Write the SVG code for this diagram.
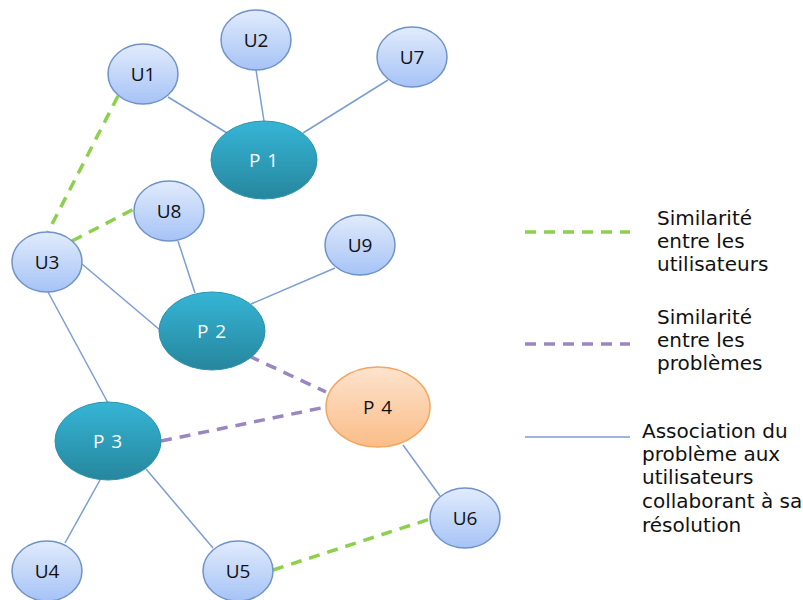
<svg xmlns="http://www.w3.org/2000/svg" width="803" height="600" viewBox="0 0 803 600">
<defs>
<linearGradient id="gu" x1="0" y1="0" x2="0" y2="1"><stop offset="0" stop-color="#e1ebfc"/><stop offset="1" stop-color="#a6c3f6"/></linearGradient>
<linearGradient id="gp" x1="0" y1="0" x2="0" y2="1"><stop offset="0" stop-color="#36b5d6"/><stop offset="1" stop-color="#26869d"/></linearGradient>
<linearGradient id="go" x1="0" y1="0" x2="0" y2="1"><stop offset="0" stop-color="#fde3cd"/><stop offset="1" stop-color="#fbbd88"/></linearGradient>
<style>
.u ellipse{fill:url(#gu);stroke:#6f92c9;stroke-width:1.5}
.p ellipse{fill:url(#gp);stroke:#2b93ad;stroke-width:1}
.o ellipse{fill:url(#go);stroke:#f4a660;stroke-width:1.5}
text{font-family:"Open Sans","Liberation Sans",sans-serif;text-anchor:middle;font-size:19px}
.u text,.o text{fill:#111}
.p text{fill:#fff;letter-spacing:1px}
.o text{letter-spacing:1px}
.a{stroke:#7b9dd2;stroke-width:1.5;fill:none}
.g{stroke:#8dd04e;stroke-width:3.5;stroke-dasharray:11 8;fill:none}
.v{stroke:#9a86c0;stroke-width:3.5;stroke-dasharray:11 8;fill:none}
.leg{font-family:"DejaVu Sans",sans-serif;font-size:20px;text-anchor:start;fill:#111;letter-spacing:0}
</style>
</defs>
<g id="connectors">
<line class="a" x1="168" y1="97" x2="227" y2="133"/>
<line class="a" x1="256" y1="70" x2="264" y2="121"/>
<line class="a" x1="388" y1="80" x2="303" y2="133"/>
<line class="a" x1="178" y1="241" x2="195" y2="293"/>
<line class="a" x1="335" y1="268" x2="251" y2="304"/>
<line class="a" x1="82" y1="264" x2="160" y2="330"/>
<line class="a" x1="48" y1="292" x2="108" y2="403"/>
<line class="a" x1="100" y1="480" x2="65" y2="543"/>
<line class="a" x1="146" y1="469" x2="213" y2="548"/>
<line class="a" x1="403" y1="445" x2="440" y2="496"/>
<line class="g" x1="118" y1="96" x2="48" y2="232"/>
<line class="g" x1="72" y1="241" x2="134" y2="209"/>
<line class="g" x1="273" y1="570" x2="430" y2="519"/>
<line class="v" x1="249" y1="356" x2="326" y2="392"/>
<line class="v" x1="161" y1="441" x2="326" y2="407"/>
</g>
<g id="U1" class="u"><ellipse cx="143" cy="74" rx="35" ry="30"/><text x="143" y="81">U1</text></g>
<g id="U2" class="u"><ellipse cx="256" cy="40" rx="35" ry="30"/><text x="256" y="47">U2</text></g>
<g id="U7" class="u"><ellipse cx="412" cy="57" rx="35" ry="30"/><text x="412" y="64">U7</text></g>
<g id="U8" class="u"><ellipse cx="169" cy="211" rx="35" ry="30"/><text x="169" y="218">U8</text></g>
<g id="U3" class="u"><ellipse cx="47" cy="262" rx="35" ry="30"/><text x="47" y="269">U3</text></g>
<g id="U9" class="u"><ellipse cx="360" cy="245" rx="35" ry="30"/><text x="360" y="252">U9</text></g>
<g id="U4" class="u"><ellipse cx="47" cy="571" rx="35" ry="30"/><text x="47" y="578">U4</text></g>
<g id="U5" class="u"><ellipse cx="238" cy="571" rx="35" ry="30"/><text x="238" y="578">U5</text></g>
<g id="U6" class="u"><ellipse cx="465" cy="518" rx="35" ry="30"/><text x="465" y="525">U6</text></g>
<g id="P1" class="p"><ellipse cx="264" cy="160" rx="53" ry="39"/><text x="264" y="167">P 1</text></g>
<g id="P2" class="p"><ellipse cx="212" cy="331" rx="53" ry="39"/><text x="212" y="338">P 2</text></g>
<g id="P3" class="p"><ellipse cx="108" cy="441" rx="53" ry="39"/><text x="108" y="448">P 3</text></g>
<g id="P4" class="o"><ellipse cx="378" cy="407" rx="52" ry="40"/><text x="378" y="414">P 4</text></g>
<g id="legend">
<line class="g" x1="525" y1="232" x2="630" y2="232"/>
<line class="v" x1="525" y1="344" x2="630" y2="344"/>
<line class="a" x1="525" y1="437" x2="630" y2="437"/>
<text class="leg" x="657" y="225">Similarité</text>
<text class="leg" x="657" y="248">entre les</text>
<text class="leg" x="657" y="271">utilisateurs</text>
<text class="leg" x="657" y="324">Similarité</text>
<text class="leg" x="657" y="347">entre les</text>
<text class="leg" x="657" y="370">problèmes</text>
<text class="leg" x="642" y="438">Association du</text>
<text class="leg" x="642" y="461">problème aux</text>
<text class="leg" x="642" y="484">utilisateurs</text>
<text class="leg" x="642" y="508">collaborant à sa</text>
<text class="leg" x="642" y="532">résolution</text>
</g>
</svg>
